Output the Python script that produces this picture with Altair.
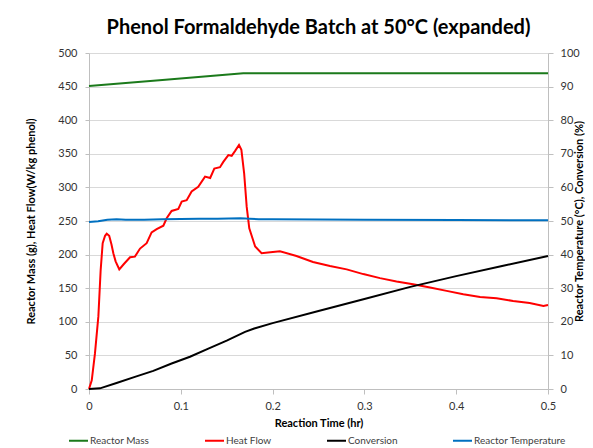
import altair as alt
import pandas as pd

# ---- data ----
heat_t = [0, 0.003, 0.0065, 0.0102, 0.0127, 0.0149, 0.0175, 0.0193, 0.022, 0.0245, 0.0265, 0.029, 0.033,
          0.038, 0.0447, 0.050, 0.0556, 0.0628, 0.0682, 0.0737, 0.081, 0.0846, 0.090, 0.0973, 0.101,
          0.1064, 0.1118, 0.119, 0.1264, 0.132, 0.1365, 0.1427, 0.1463, 0.1518, 0.1554, 0.159, 0.1634,
          0.166, 0.169, 0.1718, 0.1746, 0.181, 0.188, 0.195, 0.208, 0.226, 0.244, 0.2625, 0.2807,
          0.2988, 0.317, 0.335, 0.353, 0.3715, 0.3896, 0.4077, 0.426, 0.444, 0.462, 0.480, 0.495, 0.5]
heat_v = [0, 13, 53, 108, 177, 217, 228, 231, 228, 215, 202, 190, 178,
          186, 196, 197, 209, 217, 233, 238, 243, 254, 265, 268, 279,
          281, 294, 301, 316, 314, 328, 330, 338, 348, 347, 354, 363,
          356, 321, 271, 239, 212, 202, 203, 205, 198, 189, 183, 178,
          171, 165, 160, 156, 151, 146, 141, 137, 135, 131, 128, 123.5, 125]

mass_t = [0, 0.08, 0.168, 0.5]
mass_v = [451, 460, 470, 470]

conv_t = [0, 0.012, 0.03, 0.05, 0.07, 0.09, 0.11, 0.13, 0.15, 0.17, 0.18, 0.2, 0.25, 0.3, 0.35, 0.4, 0.45, 0.5]
conv_v = [0, 0.2, 1.8, 3.6, 5.4, 7.6, 9.6, 12.0, 14.4, 17.0, 18.0, 19.6, 23.2, 26.8, 30.4, 33.6, 36.6, 39.6]

temp_t = [0, 0.01, 0.02, 0.03, 0.04, 0.06, 0.08, 0.10, 0.12, 0.14, 0.165, 0.175, 0.185, 0.2, 0.3, 0.4, 0.5]
temp_v = [49.7, 49.9, 50.4, 50.5, 50.4, 50.4, 50.5, 50.6, 50.7, 50.7, 50.8, 50.7, 50.5, 50.5, 50.4, 50.3, 50.2]

series = ["Reactor Mass", "Heat Flow", "Conversion", "Reactor Temperature"]
colors = ["#1b7a1b", "#ff0000", "#000000", "#0070c0"]

left = pd.concat([
    pd.DataFrame({"t": mass_t, "v": mass_v, "s": "Reactor Mass"}),
    pd.DataFrame({"t": heat_t, "v": heat_v, "s": "Heat Flow"}),
])
right = pd.concat([
    pd.DataFrame({"t": conv_t, "v": conv_v, "s": "Conversion"}),
    pd.DataFrame({"t": temp_t, "v": temp_v, "s": "Reactor Temperature"}),
])

FONT = "Lato"
x_enc = alt.X("t:Q", scale=alt.Scale(domain=[0, 0.5], nice=False),
              axis=alt.Axis(title="Reaction Time (hr)", values=[0, 0.1, 0.2, 0.3, 0.4, 0.5],
                            format="~g", grid=False, tickSize=5, labelPadding=6,
                            labelFlush=False, titlePadding=6))
color_enc = alt.Color("s:N", scale=alt.Scale(domain=series, range=colors),
                      legend=alt.Legend(title=None, orient="none", direction="horizontal",
                                        legendX=-21, legendY=377, columns=4, columnPadding=51,
                                        symbolType="stroke", symbolSize=361, symbolStrokeWidth=2,
                                        labelOffset=1, labelFontSize=10, labelFont=FONT,
                                        labelColor="#404040"))

left_layer = alt.Chart(left).mark_line(strokeWidth=2).encode(
    x=x_enc,
    y=alt.Y("v:Q", scale=alt.Scale(domain=[0, 500], nice=False),
            axis=alt.Axis(title="Reactor Mass (g), Heat Flow(W/kg phenol)", orient="left",
                          values=list(range(0, 501, 50)), tickSize=4, labelPadding=8,
                          titlePadding=21)),
    color=color_enc,
    order=alt.Order("t:Q"),
)

right_layer = alt.Chart(right).mark_line(strokeWidth=2).encode(
    x=x_enc,
    y=alt.Y("v:Q", scale=alt.Scale(domain=[0, 100], nice=False),
            axis=alt.Axis(title="Reactor Temperature (°C), Conversion (%)", orient="right",
                          values=list(range(0, 101, 10)), grid=False, tickSize=5,
                          labelPadding=7, titleAngle=270, titleX=36, titleY=168,
                          titleAlign="center", titleBaseline="bottom")),
    color=color_enc,
    order=alt.Order("t:Q"),
)

chart = alt.layer(left_layer, right_layer).resolve_scale(y="independent").properties(
    width=459, height=336,
    autosize=alt.AutoSizeParams(type="none"),
    padding={"left": 81, "top": 45, "right": 37, "bottom": 59},
    title=alt.Title("Phenol Formaldehyde Batch at 50°C (expanded)", fontSize=20, font=FONT,
                    fontWeight="bold", color="#000000", offset=9),
).configure_view(stroke=None).configure_axis(
    labelFont=FONT, labelFontSize=11, labelColor="#333333",
    titleFont=FONT, titleFontSize=11, titleFontWeight="bold", titleColor="#000000",
    domainColor="#bfbfbf", tickColor="#bfbfbf", gridColor="#d9d9d9",
)

chart.save("out.html", embed_options={"renderer": "svg", "actions": False})
